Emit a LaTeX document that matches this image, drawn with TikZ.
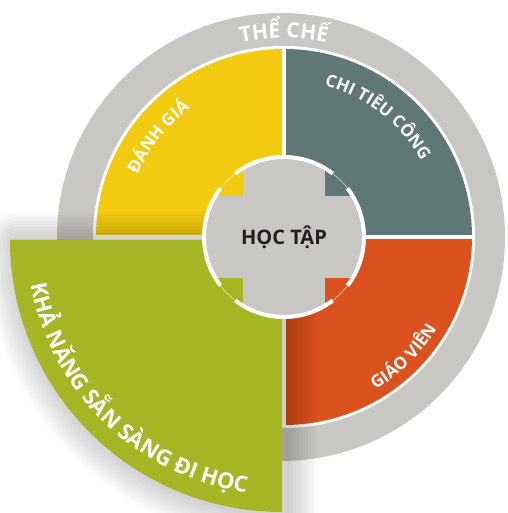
\documentclass[tikz,border=0pt]{standalone}
\usepackage{fontspec}
\setmainfont{Open Sans}
\usetikzlibrary{decorations.text}
\definecolor{ringgray}{HTML}{C8C7C3}
\definecolor{danhgia}{HTML}{F2CB11}
\definecolor{chitieu}{HTML}{5F7876}
\definecolor{giaovien}{HTML}{DC521E}
\definecolor{sansang}{HTML}{A6B523}
\definecolor{hoctap}{HTML}{231F20}

\begin{document}
\begin{tikzpicture}[x=1pt, y=1pt,
    arclabel/.style={decorate, decoration={text along path, text align=center, text color=white}},
    tab/.style={white, line width=4pt}]
        \useasboundingbox (-284,-276) rectangle (223,237);

        % Ring
        \fill[ringgray] (-3,0) circle[radius=224pt];
        \fill[white] (0,0) circle[radius=191pt];

        % Quarters
        \fill[danhgia] (0,0) -- (180:188pt) arc[start angle=180, end angle=90, radius=188pt] -- cycle;
        \fill[chitieu] (0,0) -- (90:188pt) arc[start angle=90, end angle=0, radius=188pt] -- cycle;
        \fill[giaovien] (0,0) -- (0:188pt) arc[start angle=0, end angle=-90, radius=188pt] -- cycle;
        \draw[white, line width=3.5pt] (-191,0) -- (191,0) (0,-191) -- (0,191);

        % Shadow and pulled-out quarter
        \foreach \w in {6,12,...,60}
            \draw[black, opacity=0.018, line width={\w*1pt}, line join=round, xshift=5pt, yshift=-2pt]
                (-2,-3) -- ++(-272,0) arc[start angle=180, end angle=270, radius=272pt] -- cycle;
        \fill[sansang] (-2,-3) -- ++(-272,0) arc[start angle=180, end angle=270, radius=272pt] -- cycle;

        % Centre
        \fill[ringgray] (0,0) circle[radius=80pt];
        \begin{scope}
            \clip (0,0) circle[radius=80pt];
            \fill[chitieu] (41,41) rectangle (90,90);
            \fill[danhgia] (-41,41) rectangle (-90,90);
            \fill[giaovien] (41,-41) rectangle (90,-90);
            \fill[sansang] (-41,-41) rectangle (-90,-90);
        \end{scope}
        \foreach \a in {45,135,225,315} {
            \draw[tab] ({\a+7.5}:80pt) arc[start angle={\a+7.5}, end angle={\a+82.5}, radius=80pt];
            \draw[white, opacity=0.4, line width=1pt] ({\a-7.5}:80pt) arc[start angle={\a-7.5}, end angle={\a+7.5}, radius=80pt];
        }
        \node[font=\fontsize{20}{20}\selectfont\bfseries, text=hoctap] (hoctap) at (0,0) {HỌC TẬP};

        % Labels
        \path[arclabel, decoration={text={|\fontsize{21}{21}\selectfont\bfseries|THỂ CHẾ}}]
            (130:199pt) arc[start angle=130, end angle=50, radius=199pt];
        \path[arclabel, decoration={text={|\fontsize{17}{17}\selectfont\bfseries|ĐÁNH GIÁ}}]
            (190:159pt) arc[start angle=190, end angle=93, radius=159pt];
        \path[arclabel, decoration={text={|\fontsize{17}{17}\selectfont\bfseries|CHI TIÊU CÔNG}}]
            (100:157pt) arc[start angle=100, end angle=4, radius=157pt];
        \path[arclabel, decoration={text={|\fontsize{17}{17}\selectfont\bfseries|GIÁO VIÊN}}]
            (-92:178pt) arc[start angle=-92, end angle=2, radius=178pt];
        \path[arclabel, shift={(-2,-3)}, decoration={text={|\fontsize{22}{22}\selectfont\bfseries|KHẢ NĂNG SẴN SÀNG ĐI HỌC}}]
            (160:255pt) arc[start angle=160, end angle=292, radius=255pt];
    \end{tikzpicture}
\end{document}
